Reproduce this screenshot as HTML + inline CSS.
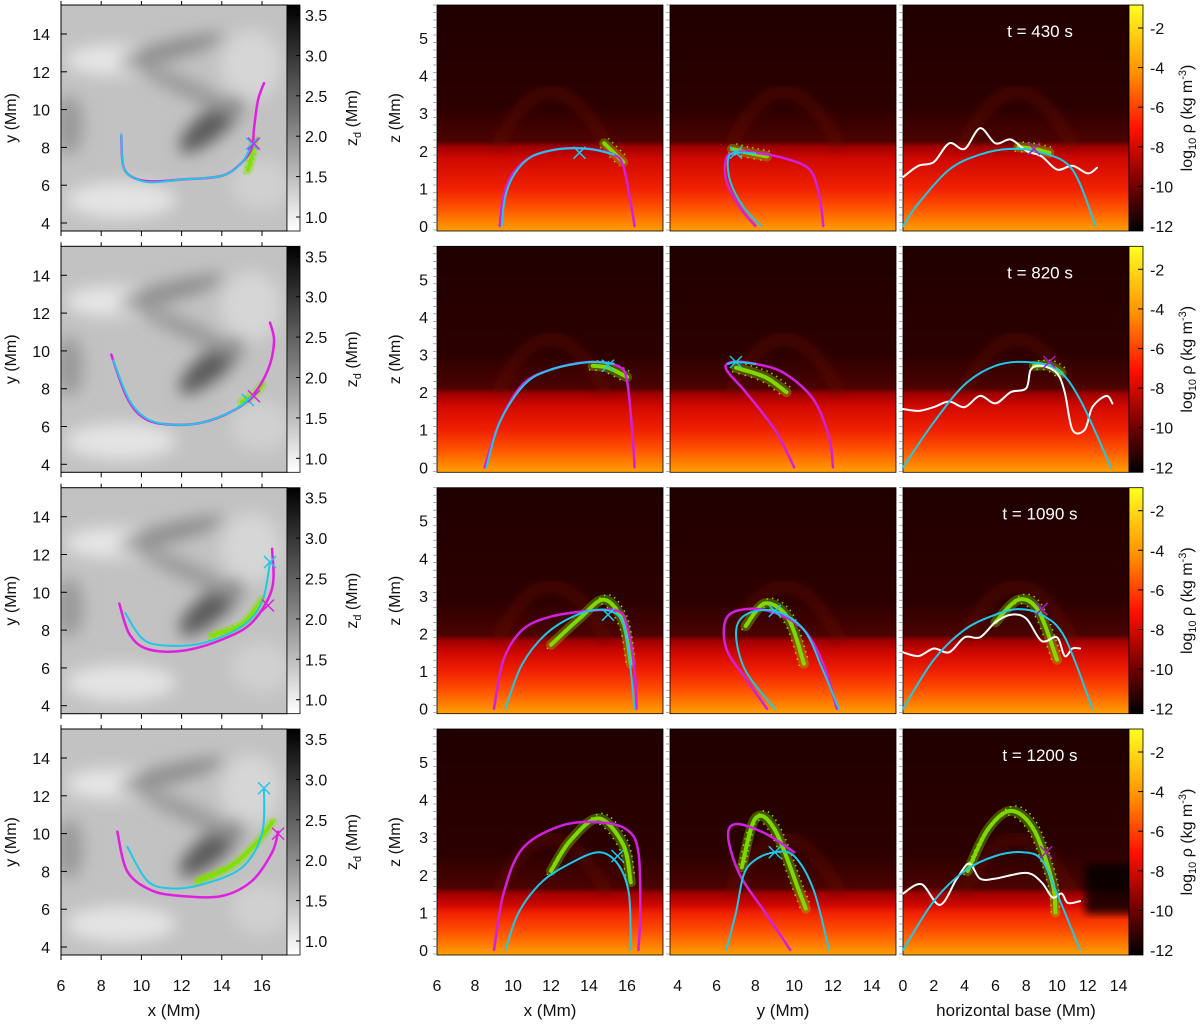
<!DOCTYPE html>
<html><head><meta charset="utf-8"><style>
html,body{margin:0;padding:0;background:#fff;}
svg text{font-family:"Liberation Sans",sans-serif;fill:#111;}
</style></head><body>
<svg id="fig" width="1200" height="1020" viewBox="0 0 1200 1020" xmlns="http://www.w3.org/2000/svg">
<defs>
<linearGradient id="gcb" x1="0" y1="0" x2="0" y2="1"><stop offset="0" stop-color="#000"/><stop offset="0.5" stop-color="#777"/><stop offset="1" stop-color="#fff"/></linearGradient>
<linearGradient id="rcb" x1="0" y1="0" x2="0" y2="1"><stop offset="0" stop-color="#ffff20"/><stop offset="0.3" stop-color="#ff9000"/><stop offset="0.55" stop-color="#ff1000"/><stop offset="0.8" stop-color="#700000"/><stop offset="1" stop-color="#000"/></linearGradient>
<filter id="blur"><feGaussianBlur stdDeviation="8"/></filter>
<filter id="blur2"><feGaussianBlur stdDeviation="4"/></filter>
</defs>
<g id="root"></g>
</svg>
<script>
// ---- data (Mm) ----
const times = ["t = 430 s","t = 820 s","t = 1090 s","t = 1200 s"];
const dropZ = [2.1, 1.95, 1.8, 1.5];
// left panels: [x, y]
const leftMag = [
 [[9,8.6],[9.1,7],[9.6,6.4],[10.5,6.2],[12,6.3],[14,6.5],[15,7.2],[15.5,8],[15.6,9],[15.8,10.5],[16.1,11.4]],
 [[8.5,9.8],[9.3,7.5],[10.2,6.4],[11.5,6.1],[13,6.2],[14.5,6.8],[15.5,7.6],[16.3,9],[16.6,10.5],[16.4,11.5]],
 [[8.9,9.4],[9.4,7.8],[10.3,7],[12,6.9],[14,7.5],[15.5,8.4],[16.5,10.2],[16.5,12.3]],
 [[8.8,10.1],[9.3,8],[10.5,7],[12,6.7],[14,6.7],[15.5,7.5],[16.5,9],[16.8,10.1]]];
const leftCyan = [
 [[9,8.7],[9.1,7],[9.6,6.4],[10.5,6.15],[12,6.3],[14,6.5],[15,7.2],[15.5,8.2]],
 [[8.6,9.5],[9.4,7.4],[10.3,6.4],[11.5,6.1],[13,6.2],[14.5,6.8],[15.3,7.4]],
 [[9.2,8.9],[10,7.6],[11,7.2],[13,7.3],[15,8.2],[16,9.5],[16.4,11.6]],
 [[9.3,9.3],[10.3,7.5],[11.5,7.1],[13,7.3],[15,8.2],[16,10],[16.1,12.4]]];
const leftGreen = [
 [[15.3,6.8],[15.5,7.6],[15.6,8.4]],
 [[15,7.3],[15.6,7.7],[16,8.2]],
 [[13.5,7.7],[15,8.3],[16,9.6]],
 [[12.8,7.5],[14.5,8.3],[15.8,9.6],[16.5,10.6]]];
const leftXMag = [[15.6,8.2],[15.6,7.6],[16.3,9.3],[16.8,10]];
// middle panel 1: [x, z]
const m1Mag = [
 [[9.3,0],[9.5,0.8],[10,1.4],[11,1.85],[12.5,2.05],[14,2.05],[15.3,1.9],[15.8,1.6],[16.2,0.6],[16.4,0]],
 [[8.5,0],[9.3,1.2],[10.5,2.2],[12,2.6],[14,2.8],[15.5,2.7],[16,2.3],[16.3,0.8],[16.4,0]],
 [[9,0],[9.5,1.3],[10.5,2.1],[12,2.45],[14,2.6],[15.5,2.6],[16,2.2],[16.4,1],[16.5,0]],
 [[9,0],[9.5,1.5],[10.5,2.7],[12.5,3.3],[14.5,3.4],[16,3.2],[16.6,2.6],[16.7,1],[16.6,0]]];
const m1Cyan = [
 [[9.4,0],[9.6,0.8],[10.1,1.4],[11,1.85],[12.5,2.05],[14,2.05],[15.3,1.9]],
 [[8.6,0],[9.3,1.2],[10.6,2.2],[12,2.6],[14,2.8],[15.3,2.75]],
 [[9.6,0],[10.5,1.2],[12,2.1],[14,2.6],[15.5,2.5],[16,1.8],[16.4,0]],
 [[9.6,0],[10.3,1],[11.5,1.8],[13,2.3],[14.5,2.6],[15.5,2.3],[16.1,1.5],[16.2,0]]];
const m1Green = [
 [[14.8,2.2],[15.4,1.9],[15.8,1.7]],
 [[14.2,2.7],[15,2.65],[16,2.4]],
 [[12,1.7],[13.5,2.4],[14.8,2.9],[15.8,2.3],[16.2,1.2]],
 [[12,2.1],[13,2.9],[14.5,3.5],[15.8,2.8],[16.2,1.8]]];
// middle panel 2: [y, z]
const m2Mag = [
 [[8,0],[7.2,0.5],[6.5,1.2],[6.5,1.8],[7,1.97],[8,1.95],[9.5,1.8],[10.8,1.5],[11.3,0.8],[11.5,0]],
 [[10,0],[9,1],[7.5,2],[6.5,2.6],[6.8,2.8],[8,2.75],[9.5,2.5],[11,1.8],[11.8,0.8],[12,0]],
 [[8.6,0],[7.5,0.8],[6.5,1.6],[6.5,2.4],[7.5,2.65],[9,2.55],[10.5,2.1],[11.5,1.2],[12.2,0]],
 [[9.8,0],[8.5,1],[7.2,2],[6.6,3],[7,3.35],[8.5,3.1],[10,2.6]]];
const m2Cyan = [
 [[8.3,0],[7.4,0.5],[6.7,1.2],[6.6,1.8],[7,1.95],[8,1.93]],
 [[6.6,2.75],[7,2.8],[8,2.75]],
 [[9,0],[7.5,1],[7,2],[7.5,2.5],[9,2.6],[10.5,2.1],[11.5,1],[12.3,0]],
 [[6.5,0],[7,1],[7.4,2],[8,2.4],[9,2.6],[10,2.5],[11,1.6],[11.8,0]]];
const m2Green = [
 [[6.8,2.05],[7.6,1.95],[8.6,1.85]],
 [[7,2.65],[8.5,2.4],[9.6,2]],
 [[7.5,2.2],[8.5,2.8],[9.7,2.4],[10.5,1.2]],
 [[7.3,2.2],[8,3.5],[9,3.2],[10.3,1.5],[10.6,1.1]]];
// middle panel 3: [h, z]
const m3Cyan = [
 [[0,0],[1,0.6],[3,1.5],[5,1.9],[7,2.05],[9,1.95],[11,1.5],[12.5,0]],
 [[0,0],[2,1.2],[4,2.2],[6,2.7],[8,2.8],[10,2.6],[11.5,1.8],[13.5,0]],
 [[0,0],[2,1.3],[4,2.1],[6,2.5],[7.5,2.65],[9,2.5],[10.5,1.9],[12.3,0]],
 [[0,0],[2,1.3],[4,2.1],[6,2.5],[7.8,2.6],[9,2.4],[10,1.5],[11.5,0]]];
const m3White = [
 [[0,1.3],[1,1.6],[2,1.7],[3,2.2],[4,2.05],[5,2.6],[6,2.2],[7,2.3],[8,2],[9,1.85],[10,1.5],[11,1.6],[12,1.4],[12.6,1.55]],
 [[0,1.55],[1,1.5],[2,1.6],[3,1.75],[4,1.6],[5,1.9],[6,1.7],[7,2],[8,2.1],[8.3,2.6],[9,2.7],[10,2.5],[10.5,2],[11,1],[11.8,1],[12.3,1.6],[13.2,1.9],[13.6,1.7]],
 [[0,1.5],[1,1.4],[2,1.6],[3,1.5],[4,1.9],[5,1.9],[6,2.3],[7,2.5],[8,2.4],[9,1.8],[10,1.9],[10.5,1.4],[11,1.6],[11.5,1.6]],
 [[0,1.5],[1.2,1.75],[2.4,1.2],[3.5,1.9],[4.3,2.3],[5,1.9],[6,1.9],[8,2.05],[9,1.8],[9.7,1.4],[10.3,1.5],[10.7,1.25],[11.5,1.3]]];
const m3Green = [
 [[7.5,2.1],[8.5,2.05],[9.5,1.95]],
 [[8.5,2.7],[9.5,2.7],[10.3,2.5]],
 [[6,2.3],[7.5,2.9],[8.8,2.6],[10,1.3]],
 [[4.2,2.1],[5.5,3.2],[7,3.7],[8.5,3.2],[9.7,1.8],[9.9,1.0]]];
const xTicksL = [6,8,10,12,14,16];
const yTicksL = [4,6,8,10,12,14];
const zdTicks = [1.0,1.5,2.0,2.5,3.0,3.5];
const zTicks = [0,1,2,3,4,5];
const yTicksM = [4,6,8,10,12,14];
const hTicks = [0,2,4,6,8,10,12,14];
const rhoTicks = [-2,-4,-6,-8,-10,-12];

// ---- geometry ----
const NS="http://www.w3.org/2000/svg";
const root=document.getElementById('root');
const rowTop=[5,246.3,487.7,729]; const PH=226;
const LX0=61;
const P=[{x0:437,lo:6,s:19},{x0:670,lo:3.6,s:19.4},{x0:903,lo:0,s:15.4}];
const FS=16;
function lx(v){return 61+(v-6)*20.1;}
function ly(v,r){return rowTop[r]+218-(v-4)*18.9;}
function px(i,v){return P[i].x0+(v-P[i].lo)*P[i].s;}
function pz(v,r){return rowTop[r]+221-v*37.6;}
function el(tag,attrs,parent){const e=document.createElementNS(NS,tag);for(const k in attrs)e.setAttribute(k,attrs[k]);(parent||root).appendChild(e);return e;}
function txt(x,y,s,anchor,size,parent){const t=el('text',{x:x,y:y,'text-anchor':anchor||'middle','font-size':size||FS},parent);t.textContent=s;return t;}
function pathD(pts,fx,fy){
 const q=pts.map(p=>[fx(p[0]),fy(p[1])]);
 let d='M'+q[0][0].toFixed(1)+' '+q[0][1].toFixed(1);
 for(let i=0;i<q.length-1;i++){
  const p0=q[Math.max(0,i-1)],p1=q[i],p2=q[i+1],p3=q[Math.min(q.length-1,i+2)];
  const c1=[p1[0]+(p2[0]-p0[0])/6,p1[1]+(p2[1]-p0[1])/6],c2=[p2[0]-(p3[0]-p1[0])/6,p2[1]-(p3[1]-p1[1])/6];
  d+=`C${c1[0].toFixed(1)} ${c1[1].toFixed(1)} ${c2[0].toFixed(1)} ${c2[1].toFixed(1)} ${p2[0].toFixed(1)} ${p2[1].toFixed(1)}`;
 }
 return d;}
function curve(pts,fx,fy,color,w,name,g){const e=el('path',{d:pathD(pts,fx,fy),fill:'none',stroke:color,'stroke-width':w,'stroke-linejoin':'round','stroke-linecap':'round'},g);


return e;}
function cross(x,y,c,g){el('path',{d:`M${x-6} ${y-6}L${x+6} ${y+6}M${x-6} ${y+6}L${x+6} ${y-6}`,stroke:c,'stroke-width':1.5},g);}
function green(pts,fx,fy,name,g){const d=pathD(pts,fx,fy);
 el('path',{d:d,fill:'none',stroke:'#80e000','stroke-width':10,'stroke-linecap':'round',opacity:0.35},g);
 const e=el('path',{d:d,fill:'none',stroke:'#80e000','stroke-width':4,'stroke-linecap':'round',opacity:0.95},g);
 
 
 el('path',{d:d,fill:'none',stroke:'#80e000','stroke-width':1.5,'stroke-dasharray':'1.5 4',transform:'translate(4,-5)'},g);
 el('path',{d:d,fill:'none',stroke:'#80e000','stroke-width':1.5,'stroke-dasharray':'1.5 5',transform:'translate(-4,4)'},g);}

for(let r=0;r<4;r++){
 const T=rowTop[r];
 const gl=el('g',{});
 
 
 el('clipPath',{id:'cl'+r},gl); el('rect',{x:LX0,y:T,width:226,height:PH},document.getElementById('cl'+r));
 const gi=el('g',{'clip-path':`url(#cl${r})`},gl);
 el('rect',{x:LX0,y:T,width:226,height:PH,fill:'#c2c2c2'},gi);
 const bl=el('g',{filter:'url(#blur)'},gi);
 el('ellipse',{cx:LX0+50,cy:T+55,rx:45,ry:15,fill:'#e6e6e6'},bl);
 el('ellipse',{cx:LX0+150,cy:T+120,rx:40,ry:14,fill:'#5a5a5a',transform:`rotate(-40 ${LX0+150} ${T+120})`},bl);
 el('ellipse',{cx:LX0+110,cy:T+45,rx:55,ry:9,fill:'#8a8a8a',transform:`rotate(-15 ${LX0+110} ${T+45})`},bl);
 el('ellipse',{cx:LX0+60,cy:T+195,rx:55,ry:18,fill:'#e4e4e4'},bl);
 el('ellipse',{cx:LX0+190,cy:T+60,rx:30,ry:35,fill:'#d6d6d6'},bl);
 el('ellipse',{cx:LX0+8,cy:T+120,rx:14,ry:30,fill:'#999'},bl);
 el('ellipse',{cx:LX0+130,cy:T+85,rx:60,ry:9,fill:'#999',transform:`rotate(25 ${LX0+130} ${T+85})`},bl);
 el('ellipse',{cx:LX0+200,cy:T+180,rx:30,ry:25,fill:'#d0d0d0'},bl);
 el('rect',{x:LX0,y:T,width:226,height:PH,fill:'none',stroke:'#000','stroke-width':1},gl);
 green(leftGreen[r],lx,v=>ly(v,r),'left-green-cloud-'+(r+1),gl);
 curve(leftMag[r],lx,v=>ly(v,r),'#e020e0',2.5,'left-magenta-fieldline-'+(r+1),gl);
 curve(leftCyan[r],lx,v=>ly(v,r),'#20c8e8',2,'left-cyan-fieldline-'+(r+1),gl);
 const lc=leftCyan[r][leftCyan[r].length-1]; cross(lx(lc[0]),ly(lc[1],r),'#20c8e8',gl);
 const lm=leftXMag[r]; cross(lx(lm[0]),ly(lm[1],r),'#e020e0',gl);
 yTicksL.forEach(v=>{txt(50,ly(v,r)+6,String(v),'end');el('line',{x1:LX0,x2:LX0+6,y1:ly(v,r),y2:ly(v,r),stroke:'#000'});});
 xTicksL.forEach(v=>{el('line',{x1:lx(v),x2:lx(v),y1:T+PH,y2:T+PH+5,stroke:'#000'});el('line',{x1:lx(v),x2:lx(v),y1:T,y2:T-4,stroke:'#000'});});
 const yl=txt(0,0,'y (Mm)','middle');yl.setAttribute('transform',`translate(16 ${T+113}) rotate(-90)`);
 
 const cb=el('rect',{x:287,y:T,width:13,height:PH,fill:'url(#gcb)',stroke:'#000','stroke-width':0.8});
 
 
 zdTicks.forEach(v=>{const y=T+10+(3.5-v)*80.8;txt(305,y+6,v.toFixed(1),'start');el('line',{x1:296,x2:300,y1:y,y2:y,stroke:'#000'});});
 const zl=el('text',{'font-size':FS,'text-anchor':'middle',transform:`translate(357 ${T+113}) rotate(-90)`});
 zl.innerHTML='z<tspan font-size="11" dy="4">d</tspan><tspan dy="-4"> (Mm)</tspan>';
 
 

 const gid='rg'+r;
 const lg=el('linearGradient',{id:gid,gradientUnits:'userSpaceOnUse',x1:0,x2:0,y1:T,y2:T+PH});
 const dz=pz(dropZ[r],r);
 [[T,'#200000'],[dz-40,'#2c0000'],[dz-6,'#4a0300'],[dz,'#a00000'],[dz+12,'#d00800'],[pz(1.0,r),'#f02000'],[pz(0.5,r),'#ff5000'],[T+PH,'#ffa000']].forEach(s=>el('stop',{offset:((s[0]-T)/PH).toFixed(3),'stop-color':s[1]},lg));
 for(let i=0;i<3;i++){
  const g=el('g',{});
  
  
  el('clipPath',{id:`cm${r}_${i}`},g); el('rect',{x:P[i].x0,y:T,width:226,height:PH},document.getElementById(`cm${r}_${i}`));
  const gi2=el('g',{'clip-path':`url(#cm${r}_${i})`},g);
  el('rect',{x:P[i].x0,y:T,width:226,height:PH,fill:`url(#${gid})`},gi2);
  el('path',{d:`M${P[i].x0+60} ${dz} Q${P[i].x0+113} ${dz-110} ${P[i].x0+170} ${dz}`,fill:'none',stroke:'#6a0800',opacity:0.35,'stroke-width':14,filter:'url(#blur2)'},gi2);
  if(i===2&&r===3){el('rect',{x:1085,y:T+135,width:60,height:50,fill:'#000',opacity:0.8,filter:'url(#blur2)'},gi2);}
  el('rect',{x:P[i].x0,y:T,width:226,height:PH,fill:'none',stroke:'#000','stroke-width':0.8},g);
  const fx=v=>px(i,v), fz=v=>pz(v,r);
  if(i===0){green(m1Green[r],fx,fz,'xz-green-cloud-'+(r+1),g);curve(m1Mag[r],fx,fz,'#d020e0',2.5,'xz-magenta-fieldline-'+(r+1),g);curve(m1Cyan[r],fx,fz,'#20c8e8',2,'xz-cyan-fieldline-'+(r+1),g);
    const c=m1Cyan[r].reduce((a,b)=>b[1]>a[1]?b:a);cross(fx(c[0]+1),fz(c[1]-0.1),'#20c8e8',g);}
  if(i===1){green(m2Green[r],fx,fz,'yz-green-cloud-'+(r+1),g);curve(m2Mag[r],fx,fz,'#d020e0',2.5,'yz-magenta-fieldline-'+(r+1),g);curve(m2Cyan[r],fx,fz,'#20c8e8',2,'yz-cyan-fieldline-'+(r+1),g);
    const c=m2Cyan[r].reduce((a,b)=>b[1]>a[1]?b:a);cross(fx(c[0]),fz(c[1]),'#20c8e8',g);}
  if(i===2){green(m3Green[r],fx,fz,'base-green-cloud-'+(r+1),g);curve(m3White[r],fx,fz,'#ffffff',2,'base-white-line-'+(r+1),g);curve(m3Cyan[r],fx,fz,'#20c8e8',2,'base-cyan-fieldline-'+(r+1),g);
    const c=m3Cyan[r].reduce((a,b)=>b[1]>a[1]?b:a);cross(fx(c[0]+1.5),fz(c[1]),'#a020c0',g);
    const tl=txt(1040,T+32,times[r],'middle',17,g);tl.style.fill='#fff';
    
    }
 }
 zTicks.forEach(v=>{txt(428,pz(v,r)+6,String(v),'end');});
 for(let i=0;i<3;i++){for(let k=0;k<31;k++){const y=T+k*7.5;el('line',{x1:P[i].x0-4,x2:P[i].x0,y1:y,y2:y,stroke:'#777','stroke-width':0.6});}}
 const zt=txt(0,0,'z (Mm)','middle');zt.setAttribute('transform',`translate(400 ${T+113}) rotate(-90)`);
 
 const rc=el('rect',{x:1129,y:T,width:14,height:PH,fill:'url(#rcb)',stroke:'#000','stroke-width':0.8});
 
 
 rhoTicks.forEach(v=>{const y=T+23+(-2-v)*19.8;txt(1150,y+6,String(v),'start');el('line',{x1:1138,x2:1143,y1:y,y2:y,stroke:'#000'});});
 const rt=el('text',{'font-size':FS,'text-anchor':'middle',transform:`translate(1192 ${T+113}) rotate(-90)`});
 rt.innerHTML='log<tspan font-size="11" dy="4">10</tspan><tspan dy="-4"> ρ (kg m</tspan><tspan font-size="11" dy="-6">-3</tspan><tspan dy="6">)</tspan>';
 
 
}
xTicksL.forEach(v=>txt(lx(v),991,String(v),'middle'));
[6,8,10,12,14,16].forEach(v=>txt(px(0,v),991,String(v),'middle'));
yTicksM.forEach(v=>txt(px(1,v),991,String(v),'middle'));
hTicks.forEach(v=>txt(px(2,v),991,String(v),'middle'));
const t1=txt(174,1016,'x (Mm)','middle',17);
const t2=txt(550,1016,'x (Mm)','middle',17);
const t3=txt(783,1016,'y (Mm)','middle',17);
const t4=txt(1016,1016,'horizontal base (Mm)','middle',17);
</script>
</body></html>
